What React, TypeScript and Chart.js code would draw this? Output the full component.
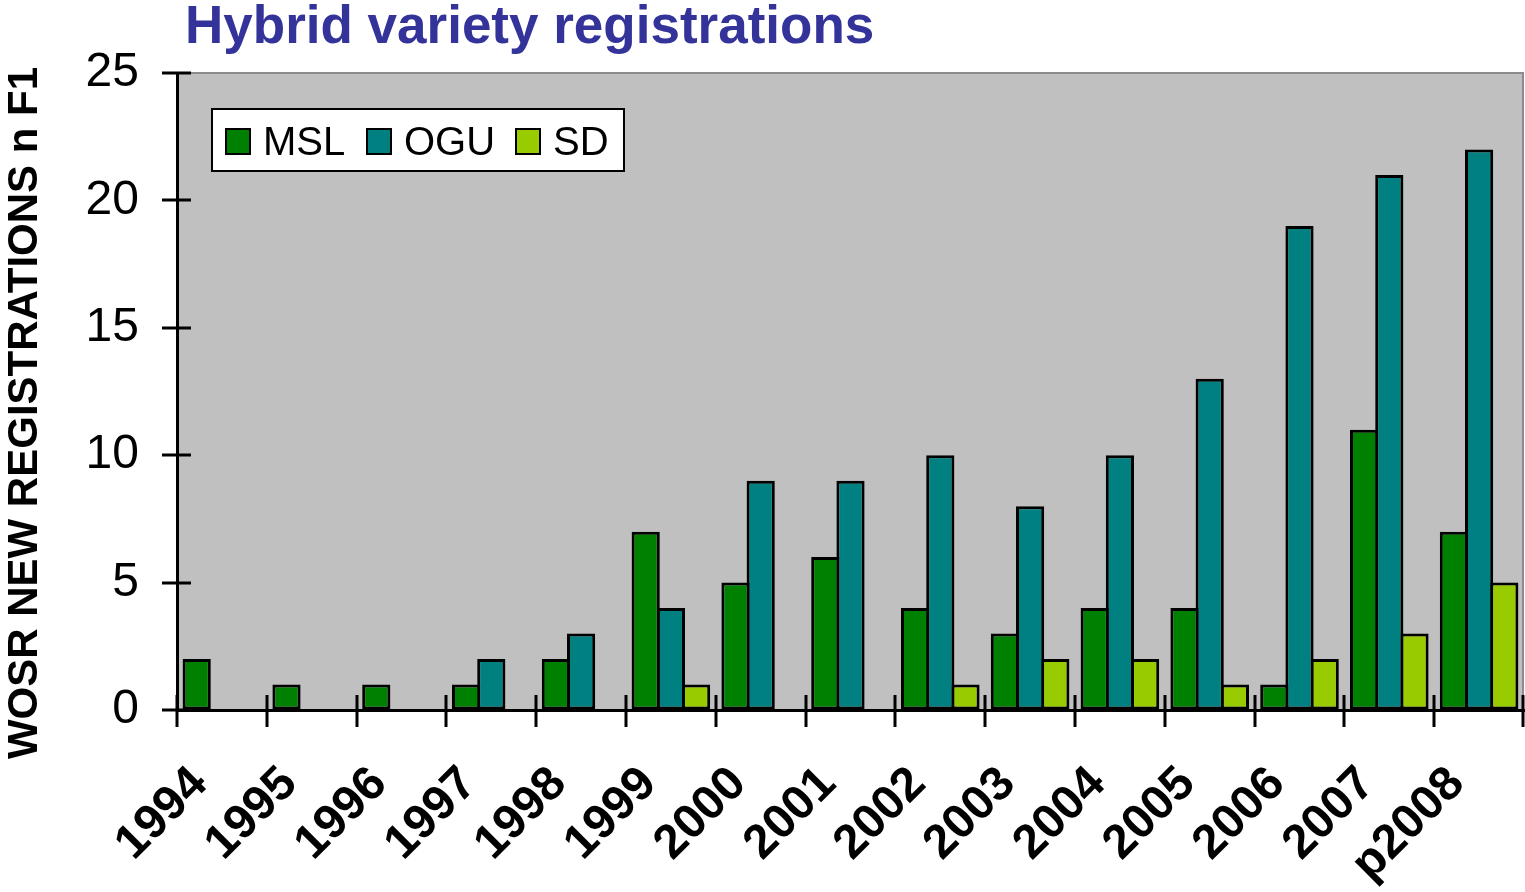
import React, { useEffect, useRef } from 'react';
import { Chart, registerables } from 'chart.js';

Chart.register(...registerables);

const categories = ['1994', '1995', '1996', '1997', '1998', '1999', '2000', '2001', '2002', '2003', '2004', '2005', '2006', '2007', 'p2008'];
const mslValues = [2, 1, 1, 1, 2, 7, 5, 6, 4, 3, 4, 4, 1, 11, 7];
const oguValues = [0, 0, 0, 2, 3, 4, 9, 9, 10, 8, 10, 13, 19, 21, 22];
const sdValues = [0, 0, 0, 0, 0, 1, 0, 0, 1, 2, 2, 1, 2, 3, 5];
const seriesNames = ['MSL', 'OGU', 'SD'];
const seriesColors = ['#008000', '#008080', '#99CC00'];
const yTickValues = [0, 5, 10, 15, 20, 25];
const chartTitle = 'Hybrid variety registrations';
const yAxisTitle = 'WOSR NEW REGISTRATIONS n F1';

const FONT = '"Liberation Sans", Arial, Helvetica, sans-serif';

const toBars = (arr: number[]) => arr.map((v) => (v === 0 ? null : v));

const decorPlugin = {
  id: 'decor',
  beforeDraw(chart: any) {
    const { ctx, chartArea: a } = chart;
    ctx.save();
    ctx.fillStyle = '#C0C0C0';
    ctx.fillRect(a.left, a.top, a.right - a.left, a.bottom - a.top);
    ctx.strokeStyle = '#8C8C8C';
    ctx.lineWidth = 2;
    ctx.beginPath();
    ctx.moveTo(a.left, a.top);
    ctx.lineTo(a.right - 1, a.top);
    ctx.lineTo(a.right - 1, a.bottom);
    ctx.stroke();

    ctx.fillStyle = '#333399';
    ctx.font = `bold 53px ${FONT}`;
    ctx.textAlign = 'left';
    ctx.textBaseline = 'alphabetic';
    ctx.fillText(chartTitle, 185, 43);

    ctx.translate(37, 413);
    ctx.rotate(-Math.PI / 2);
    ctx.fillStyle = '#000';
    ctx.font = `bold 42px ${FONT}`;
    ctx.textAlign = 'center';
    ctx.fillText(yAxisTitle, 0, 0);
    ctx.restore();
  },
  afterDraw(chart: any) {
    const { ctx, chartArea: a } = chart;
    const xs = chart.scales.x;
    const ys = chart.scales.y;
    ctx.save();
    ctx.strokeStyle = '#000';
    ctx.lineWidth = 3;
    ctx.beginPath();
    yTickValues.forEach((v) => {
      const py = Math.round(ys.getPixelForValue(v));
      ctx.moveTo(a.left - 15, py);
      ctx.lineTo(a.left + 14, py);
    });
    for (let i = 0; i <= categories.length; i++) {
      const px = Math.min(Math.round(xs.getPixelForValue(i - 0.5)), a.right - 1);
      ctx.moveTo(px, a.bottom - 15);
      ctx.lineTo(px, a.bottom + 17);
    }
    ctx.stroke();

    // legend
    const lx = 212, ly = 109, lw = 412, lh = 62;
    ctx.fillStyle = '#FFFFFF';
    ctx.fillRect(lx, ly, lw, lh);
    ctx.lineWidth = 2;
    ctx.strokeStyle = '#000';
    ctx.strokeRect(lx, ly, lw, lh);
    const sqX = [226, 367, 516];
    const txX = [263, 404, 553];
    ctx.font = `40px ${FONT}`;
    ctx.textAlign = 'left';
    ctx.textBaseline = 'alphabetic';
    chart.data.datasets.forEach((ds: any, i: number) => {
      ctx.fillStyle = ds.backgroundColor;
      ctx.fillRect(sqX[i], 129, 24, 25);
      ctx.strokeRect(sqX[i], 129, 24, 25);
      ctx.fillStyle = '#000';
      ctx.fillText(ds.label, txX[i], 155);
    });
    ctx.restore();
  },
};

export default function App() {
  const canvasRef = useRef<HTMLCanvasElement | null>(null);

  useEffect(() => {
    document.body.style.margin = '0';
    const canvas = canvasRef.current;
    if (!canvas) return;
    Chart.defaults.font.family = FONT;
    const seriesValues = [mslValues, oguValues, sdValues];
    const chart = new Chart(canvas, {
      type: 'bar',
      data: {
        labels: categories,
        datasets: seriesNames.map((name, i) => ({
          label: name,
          data: toBars(seriesValues[i]),
          backgroundColor: seriesColors[i],
          borderColor: '#000',
          borderWidth: 3,
          borderSkipped: false,
          categoryPercentage: 0.842,
          barPercentage: 1.119,
        })),
      },
      options: {
        responsive: false,
        animation: false,
        layout: { padding: { top: 73, right: 1, left: 0, bottom: 0 } },
        plugins: {
          legend: { display: false },
          title: { display: false },
          tooltip: { enabled: false },
        },
        scales: {
          x: {
            offset: true,
            grid: { display: true, drawOnChartArea: false, drawTicks: false, offset: true },
            border: { display: true, color: '#000', width: 3 },
            ticks: {
              color: '#000',
              font: { family: FONT, size: 48, weight: 'bold' },
              minRotation: 45,
              maxRotation: 45,
              autoSkip: false,
              labelOffset: -22,
              padding: 46,
            },
            afterFit: (s: any) => {
              s.height = 182;
              s.paddingLeft = 0;
              s.paddingRight = 0;
            },
          },
          y: {
            min: 0,
            max: 25,
            grid: { display: true, drawOnChartArea: false, drawTicks: false },
            border: { display: true, color: '#000', width: 3 },
            ticks: {
              stepSize: 5,
              color: '#000',
              font: { family: FONT, size: 48 },
              padding: 38,
            },
            afterFit: (s: any) => {
              s.width = 177;
              s.paddingTop = 0;
              s.paddingBottom = 0;
            },
          },
        },
      },
      plugins: [decorPlugin],
    });
    return () => chart.destroy();
  }, []);

  return (
    <div style={{ position: 'absolute', left: 0, top: 0, width: 1525, height: 892 }}>
      <canvas ref={canvasRef} width={1525} height={892} style={{ display: 'block', width: 1525, height: 892 }} />
    </div>
  );
}
